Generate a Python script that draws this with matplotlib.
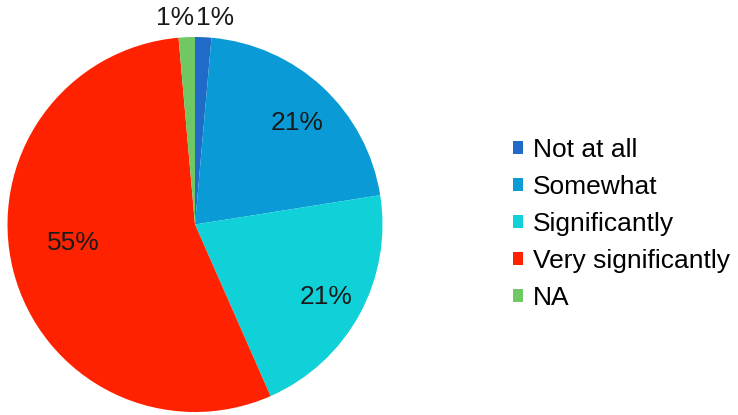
import matplotlib
matplotlib.use("Agg")
import matplotlib.pyplot as plt
import matplotlib.patches as patches

plt.rcParams['font.family'] = ['Liberation Sans', 'DejaVu Sans']

# Survey answers, percentages
categories = ['Not at all', 'Somewhat', 'Significantly', 'Very significantly', 'NA']
values = [1.4, 21.1, 20.9, 55.2, 1.4]
colors = ['#1F6BC7', '#0A9BD6', '#10D0D8', '#FF2200', '#70C865']

fig = plt.figure(figsize=(7.38, 4.15), dpi=100)
ax = fig.add_axes([195 / 738 - 187.5 / 738, 3 / 415, 375 / 738, 375 / 415])

wedges, texts, autotexts = ax.pie(
    values, colors=colors, startangle=90, counterclock=False,
    radius=1.0, autopct=lambda p: f'{p:.0f}%', pctdistance=0.78,
    textprops={'fontsize': 19, 'color': '#1a1a1a'},
    wedgeprops={'linewidth': 0},
)
ax.set_xlim(-1, 1)
ax.set_ylim(-1, 1)
ax.set_aspect('auto')

# small slices get their labels pushed outside, spread apart
for i, t in enumerate(autotexts):
    x, y = t.get_position()
    if values[i] < 5:
        shift = 0.06 if x > 0 else -0.06
        t.set_position((x / 0.78 * 1.10 + shift, y / 0.78 * 1.10))
    elif values[i] > 50:
        t.set_position((x * 0.86, y * 0.5))
    else:
        t.set_position((x * 1.02, y * 0.98 - 0.02))

handles = [patches.Patch(facecolor=c, edgecolor='none') for c in colors]
fig.legend(handles, categories, loc='center left', bbox_to_anchor=(0.663, 0.46),
           frameon=False, fontsize=19, handlelength=0.38, handleheight=0.38,
           handletextpad=0.38, labelspacing=0.49)

fig.savefig('out.png', dpi=100)
